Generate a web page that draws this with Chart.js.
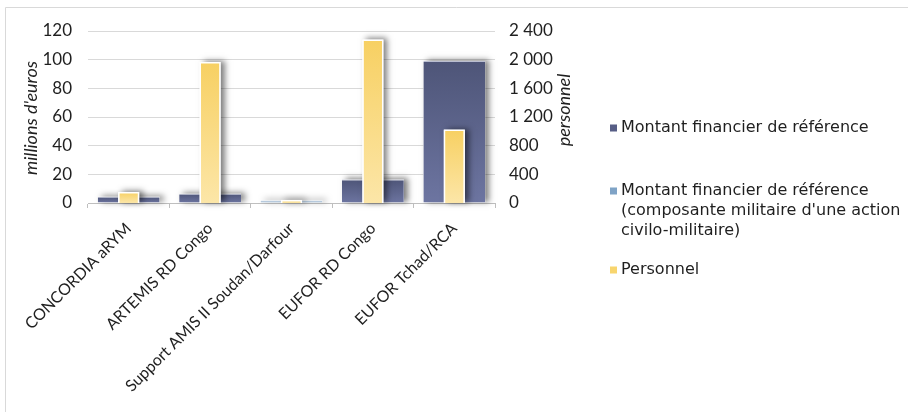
<!DOCTYPE html>
<html>
<head>
<meta charset="utf-8">
<script src="https://cdn.jsdelivr.net/npm/chart.js@4.4.0/dist/chart.umd.min.js"></script>
<style>
  html, body { margin: 0; padding: 0; background: #fff; }
  #wrap { position: relative; width: 908px; height: 412px; }
</style>
</head>
<body>
<div id="wrap"><canvas id="chart" width="908" height="412"></canvas></div>
<script>
// Opérations PESD : montant financier de référence et personnel
const operations = ['CONCORDIA aRYM', 'ARTEMIS RD Congo', 'Support AMIS II Soudan/Darfour', 'EUFOR RD Congo', 'EUFOR Tchad/RCA'];
const montantReference = [4.4, 6.5, null, 16.4, 99];
const montantCivilMilitaire = [null, null, 1.8, null, null];
const personnel = [154, 1968, 42, 2282, 1025];

const eurosTicks = [0, 20, 40, 60, 80, 100, 120];
const personnelTicks = [0, 400, 800, 1200, 1600, 2000, 2400];

const seriesLabels = [
    'Montant financier de référence',
    ['Montant financier de référence', '(composante militaire d\'une action', 'civilo-militaire)'],
    'Personnel'
];

const FONT = 'Lato, "Open Sans", sans-serif';
const TEXT = '#1f1f1f';
const GRID = '#d9d9d9';

// dégradé vertical propre à chaque barre
function barGradient(top, bottom, axisId) {
    return (ctx) => {
        const chart = ctx.chart;
        if (!chart.chartArea || ctx.type !== 'data' || ctx.raw == null) {
            return top;
        }
        const scale = chart.scales[axisId];
        const y0 = scale.getPixelForValue(ctx.raw);
        const y1 = scale.getPixelForValue(0);
        const g = chart.ctx.createLinearGradient(0, y0, 0, y1);
        g.addColorStop(0, top);
        g.addColorStop(1, bottom);
        return g;
    };
}

// ombre portée sous les barres, dessinée juste avant chaque série
const barShadow = {
    id: 'barShadow',
    beforeDatasetDraw(chart, args) {
        const ctx = chart.ctx;
        ctx.save();
        ctx.shadowColor = 'rgba(0, 0, 0, 0.5)';
        ctx.shadowBlur = 6;
        ctx.shadowOffsetX = 4;
        ctx.shadowOffsetY = -1;
        ctx.fillStyle = '#ffffff';
        args.meta.data.forEach((bar, i) => {
            if (chart.data.datasets[args.index].data[i] == null) return;
            const { x, y, base, width } = bar.getProps(['x', 'y', 'base', 'width'], true);
            ctx.fillRect(x - width / 2, y, width, base - y);
        });
        ctx.restore();
    }
};

// cadre, titres des axes et légende
const decorations = {
    id: 'decorations',
    beforeDraw(chart) {
        const ctx = chart.ctx;
        ctx.save();
        ctx.strokeStyle = GRID;
        ctx.lineWidth = 1;
        ctx.beginPath();
        ctx.moveTo(5.5, 412);
        ctx.lineTo(5.5, 7.5);
        ctx.lineTo(908, 7.5);
        ctx.stroke();
        ctx.restore();
    },
    afterDraw(chart) {
        const ctx = chart.ctx;

        ctx.save();
        ctx.fillStyle = TEXT;
        ctx.font = 'italic 18px ' + FONT;
        ctx.textAlign = 'center';
        ctx.textBaseline = 'middle';
        [[31, 118, 'millions d\'euros'], [564, 110, 'personnel']].forEach(([x, y, txt]) => {
            ctx.save();
            ctx.translate(x, y);
            ctx.rotate(-Math.PI / 2);
            ctx.fillText(txt, 0, 0);
            ctx.restore();
        });

        // légende
        const swatches = ['#575e86', '#7fa3c6', '#f8d56e'];
        const rows = [[128], [191, 211, 231], [270]];
        ctx.font = '16px "DejaVu Sans", sans-serif';
        ctx.textAlign = 'left';
        seriesLabels.forEach((label, i) => {
            const lines = Array.isArray(label) ? label : [label];
            ctx.fillStyle = swatches[i];
            ctx.fillRect(610, rows[i][0] - 3.5, 7, 7);
            ctx.fillStyle = TEXT;
            lines.forEach((line, j) => ctx.fillText(line, 621, rows[i][j]));
        });
        ctx.restore();
    }
};

new Chart(document.getElementById('chart'), {
    type: 'bar',
    data: {
        labels: operations,
        datasets: [
            {
                label: 'Montant financier de référence',
                data: montantReference,
                yAxisID: 'y',
                grouped: false,
                order: 2,
                categoryPercentage: 1,
                barPercentage: 0.76,
                backgroundColor: barGradient('#4e5578', '#6d75a1', 'y'),
                borderColor: '#b9bdd0',
                borderWidth: { top: 1, left: 0, right: 0, bottom: 0 },
                borderSkipped: 'bottom',
                clip: false
            },
            {
                label: 'Montant financier de référence (composante militaire d\'une action civilo-militaire)',
                data: montantCivilMilitaire,
                yAxisID: 'y',
                grouped: false,
                order: 1,
                categoryPercentage: 1,
                barPercentage: 0.76,
                backgroundColor: barGradient('#7b9dbf', '#9bb8d3', 'y'),
                borderColor: '#c9d6e4',
                borderWidth: { top: 1, left: 0, right: 0, bottom: 0 },
                borderSkipped: 'bottom',
                clip: false
            },
            {
                label: 'Personnel',
                data: personnel,
                yAxisID: 'y2',
                grouped: false,
                order: 0,
                categoryPercentage: 1,
                barPercentage: 0.26,
                backgroundColor: barGradient('#f7d062', '#fce6a8', 'y2'),
                borderColor: '#ffffff',
                borderWidth: 1.5,
                borderSkipped: 'bottom',
                clip: false
            }
        ]
    },
    options: {
        responsive: false,
        animation: false,
        devicePixelRatio: 1,
        layout: { padding: { left: 0, right: 333, top: 31, bottom: 0 } },
        plugins: {
            legend: { display: false },
            tooltip: { enabled: false }
        },
        scales: {
            x: {
                offset: true,
                afterFit: (s) => { s.height = 412 - 203; },
                grid: {
                    offset: true,
                    drawOnChartArea: false,
                    drawTicks: true,
                    tickLength: 5,
                    color: '#bfbfbf'
                },
                border: { display: true, color: '#bfbfbf' },
                ticks: {
                    autoSkip: false,
                    minRotation: 45,
                    maxRotation: 45,
                    padding: 11,
                    color: TEXT,
                    font: { family: FONT, size: 16 }
                }
            },
            y: {
                position: 'left',
                min: 0,
                max: 120,
                afterFit: (s) => { s.width = 88; },
                afterBuildTicks: (s) => { s.ticks = eurosTicks.map((v) => ({ value: v })); },
                grid: { color: GRID, drawTicks: false },
                border: { display: false },
                ticks: {
                    padding: 16,
                    color: TEXT,
                    font: { family: FONT, size: 17 }
                }
            },
            y2: {
                position: 'right',
                min: 0,
                max: 2400,
                afterFit: (s) => { s.width = 80; },
                afterBuildTicks: (s) => { s.ticks = personnelTicks.map((v) => ({ value: v })); },
                grid: { display: false, drawTicks: false },
                border: { display: false },
                ticks: {
                    padding: 14,
                    color: TEXT,
                    font: { family: FONT, size: 17 },
                    callback: (v) => String(v).replace(/\B(?=(\d{3})+(?!\d))/g, ' ')
                }
            }
        }
    },
    plugins: [barShadow, decorations]
});
</script>
</body>
</html>
